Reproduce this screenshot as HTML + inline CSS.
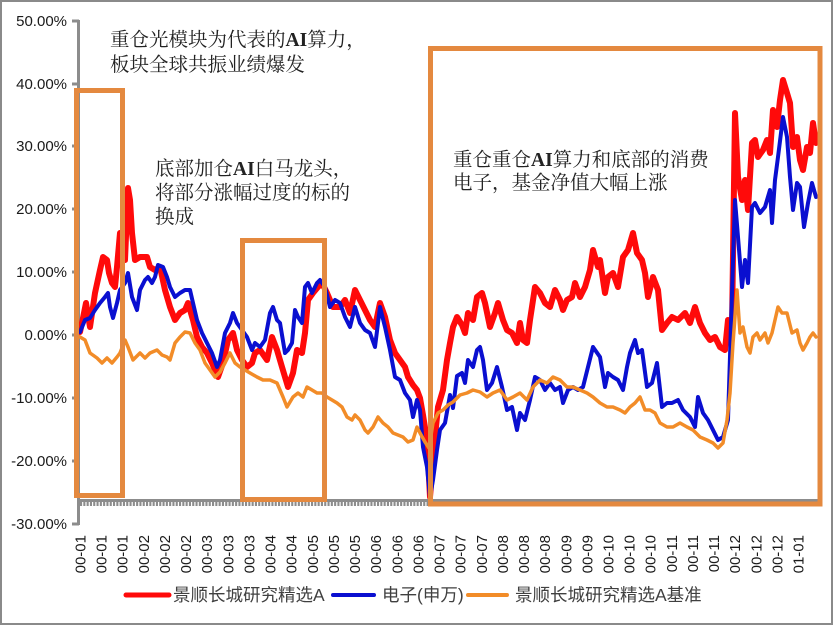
<!DOCTYPE html>
<html>
<head>
<meta charset="utf-8">
<style>
html,body{margin:0;padding:0;background:#fff;}
svg{display:block;}
</style>
</head>
<body>
<svg width="833" height="625" viewBox="0 0 833 625" xmlns="http://www.w3.org/2000/svg">
<rect x="1" y="1" width="831" height="623" fill="#fff" stroke="#8a8a8a" stroke-width="2"/>

<!-- Y axis -->
<g stroke="#8c8c8c" stroke-width="3" fill="none">
<line x1="78.5" y1="20" x2="78.5" y2="525"/>
<line x1="72" y1="21" x2="79" y2="21"/>
<line x1="72" y1="84" x2="79" y2="84"/>
<line x1="72" y1="146" x2="79" y2="146"/>
<line x1="72" y1="209" x2="79" y2="209"/>
<line x1="72" y1="272" x2="79" y2="272"/>
<line x1="72" y1="335" x2="79" y2="335"/>
<line x1="72" y1="398" x2="79" y2="398"/>
<line x1="72" y1="461" x2="79" y2="461"/>
<line x1="72" y1="524" x2="79" y2="524"/>
<!-- X axis -->
<line x1="78" y1="500.5" x2="820" y2="500.5"/>
</g>
<line x1="80" y1="504" x2="820" y2="504" stroke="#8c8c8c" stroke-width="4" stroke-dasharray="2.1 1.2"/>

<g font-family="Liberation Sans, Arial, sans-serif" font-size="15" fill="#1a1a1a" text-anchor="end">
<text x="67" y="26">50.00%</text>
<text x="67" y="89">40.00%</text>
<text x="67" y="151">30.00%</text>
<text x="67" y="214">20.00%</text>
<text x="67" y="277">10.00%</text>
<text x="67" y="340">0.00%</text>
<text x="67" y="403">-10.00%</text>
<text x="67" y="466">-20.00%</text>
<text x="67" y="529">-30.00%</text>
</g>

<!-- X labels -->
<g font-family="Liberation Sans, Arial, sans-serif" font-size="15" fill="#1a1a1a" text-anchor="end">
<text transform="translate(85.5,535) rotate(-90)">00-01</text>
<text transform="translate(106.6,535) rotate(-90)">00-01</text>
<text transform="translate(127.7,535) rotate(-90)">00-01</text>
<text transform="translate(148.9,535) rotate(-90)">00-02</text>
<text transform="translate(170.0,535) rotate(-90)">00-02</text>
<text transform="translate(191.1,535) rotate(-90)">00-02</text>
<text transform="translate(212.2,535) rotate(-90)">00-03</text>
<text transform="translate(233.3,535) rotate(-90)">00-03</text>
<text transform="translate(254.5,535) rotate(-90)">00-03</text>
<text transform="translate(275.6,535) rotate(-90)">00-04</text>
<text transform="translate(296.7,535) rotate(-90)">00-04</text>
<text transform="translate(317.8,535) rotate(-90)">00-05</text>
<text transform="translate(338.9,535) rotate(-90)">00-05</text>
<text transform="translate(360.1,535) rotate(-90)">00-05</text>
<text transform="translate(381.2,535) rotate(-90)">00-06</text>
<text transform="translate(402.3,535) rotate(-90)">00-06</text>
<text transform="translate(423.4,535) rotate(-90)">00-06</text>
<text transform="translate(444.5,535) rotate(-90)">00-07</text>
<text transform="translate(465.7,535) rotate(-90)">00-07</text>
<text transform="translate(486.8,535) rotate(-90)">00-07</text>
<text transform="translate(507.9,535) rotate(-90)">00-08</text>
<text transform="translate(529.0,535) rotate(-90)">00-08</text>
<text transform="translate(550.1,535) rotate(-90)">00-08</text>
<text transform="translate(571.3,535) rotate(-90)">00-09</text>
<text transform="translate(592.4,535) rotate(-90)">00-09</text>
<text transform="translate(613.5,535) rotate(-90)">00-10</text>
<text transform="translate(634.6,535) rotate(-90)">00-10</text>
<text transform="translate(655.7,535) rotate(-90)">00-10</text>
<text transform="translate(676.9,535) rotate(-90)">00-11</text>
<text transform="translate(698.0,535) rotate(-90)">00-11</text>
<text transform="translate(719.1,535) rotate(-90)">00-11</text>
<text transform="translate(740.2,535) rotate(-90)">00-12</text>
<text transform="translate(761.3,535) rotate(-90)">00-12</text>
<text transform="translate(782.5,535) rotate(-90)">00-12</text>
<text transform="translate(803.6,535) rotate(-90)">01-01</text>
</g>

<!-- Series -->
<polyline fill="none" stroke="#ff0a0a" stroke-width="6" stroke-linejoin="round" stroke-linecap="round" points="80,332 83,318 86,303 90,327 95,293 100,270 103,257 107,260 109,273 112,283 115,287 117,267 120,233 122,237 125,260 128,188 130,200 132,233 135,260 140,257 147,257 150,267 155,270 160,267 165,290 170,307 175,320 180,313 185,310 188,303 193,320 197,337 202,347 207,353 212,363 218,377 223,363 228,340 233,333 237,350 242,360 247,367 252,363 255,353 260,350 267,360 272,337 277,350 282,367 285,377 288,387 293,373 297,350 302,353 305,333 308,300 313,293 318,287 322,283 327,293 333,307 340,307 345,300 350,313 355,290 360,300 365,310 370,320 375,327 380,303 385,317 390,340 395,353 400,360 405,367 408,377 413,385 417,390 420,398 423,415 427,440 430,497 435,437 438,407 443,390 447,360 450,343 453,327 457,317 462,325 465,333 468,313 473,320 477,297 482,293 485,303 490,327 495,313 498,303 503,320 507,330 512,333 517,343 520,323 523,340 527,343 530,320 535,287 540,293 545,303 550,307 555,290 560,300 563,310 567,300 572,297 575,283 580,297 585,287 590,270 593,250 598,267 600,260 605,293 608,277 613,273 618,287 623,257 628,250 633,233 637,253 642,260 645,273 648,297 653,277 658,290 662,330 667,323 672,317 678,320 685,313 690,323 695,307 700,323 705,333 710,340 715,337 720,347 725,350 728,320 732,327 735,113 738,177 742,200 745,180 748,210 752,143 755,140 758,157 763,150 767,140 770,153 773,110 777,127 780,100 783,80 787,93 790,103 793,147 797,137 800,160 803,170 807,147 810,153 813,123 816,143"/>

<polyline fill="none" stroke="#0a0fd0" stroke-width="4" stroke-linejoin="round" stroke-linecap="round" points="80,332 85,320 90,318 95,310 100,303 105,297 108,293 110,307 113,318 117,303 120,290 125,283 128,273 132,297 137,310 140,290 145,280 148,277 152,283 155,277 158,265 163,267 167,277 170,287 175,297 180,293 185,290 190,290 193,303 197,320 202,333 207,343 212,353 217,367 220,360 225,333 230,323 233,313 237,323 242,330 247,337 252,350 255,343 260,347 265,340 270,313 273,307 277,320 280,323 285,353 288,350 292,343 295,310 298,317 302,323 305,287 308,283 312,293 317,283 320,280 325,287 330,307 335,300 340,303 345,317 350,327 355,307 360,323 365,330 370,333 375,347 380,307 385,327 390,350 395,377 400,380 405,393 410,400 413,417 417,400 420,410 423,447 427,467 430,497 433,480 437,450 440,430 445,423 450,395 453,408 457,376 462,373 465,383 468,360 473,367 477,350 480,347 483,360 487,390 492,383 497,367 502,387 507,410 512,407 517,430 520,413 525,420 530,400 535,377 540,380 545,390 550,383 555,390 560,387 563,403 568,390 573,387 578,390 583,387 588,367 593,347 600,357 605,387 608,373 613,377 618,380 623,390 627,367 630,353 635,340 638,353 642,350 647,387 652,383 657,363 662,407 667,403 672,403 678,400 683,410 690,417 695,427 698,397 703,413 708,420 713,430 718,440 723,437 728,420 732,293 735,200 738,237 742,287 745,260 748,283 752,207 755,203 760,213 765,207 770,190 772,223 775,180 778,157 783,117 787,137 790,177 793,210 797,183 800,187 804,227 808,203 812,183 816,197"/>

<polyline fill="none" stroke="#f28c28" stroke-width="3.5" stroke-linejoin="round" stroke-linecap="round" points="80,337 85,340 90,353 97,358 102,363 107,358 112,363 117,357 120,353 125,340 128,347 133,360 140,353 145,358 150,353 157,350 162,355 167,357 170,360 175,343 180,337 185,332 190,333 195,343 200,350 205,363 210,370 215,377 220,372 225,363 230,353 235,363 240,367 245,370 250,373 257,377 263,380 270,380 277,383 283,397 287,407 293,397 298,393 303,397 307,387 312,390 317,393 322,393 327,397 332,400 337,403 342,407 347,417 352,420 355,415 360,420 365,430 368,433 373,427 378,417 383,423 388,427 393,433 398,435 403,437 408,442 413,440 417,427 420,433 425,442 429,448 433,423 438,413 443,410 448,405 453,402 460,395 467,393 473,390 480,392 487,397 493,393 500,390 507,400 513,397 520,393 527,400 533,387 540,380 547,383 553,377 560,380 567,387 573,387 580,390 587,393 593,397 600,403 607,407 613,407 620,410 625,413 630,407 635,403 640,397 645,410 650,410 655,413 660,423 667,427 673,427 680,423 687,427 693,430 700,437 707,440 713,443 718,448 723,443 727,420 730,393 733,343 737,290 740,333 743,327 747,347 750,353 753,337 757,333 760,340 765,333 768,343 772,333 775,320 778,307 782,313 787,313 792,333 797,330 800,343 803,350 807,343 810,337 813,333 816,337"/>

<!-- Boxes -->
<g fill="none" stroke="#e4893f" stroke-width="5">
<rect x="76.5" y="90.5" width="46" height="405"/>
<rect x="242.5" y="240.5" width="82" height="259"/>
<rect x="430.5" y="48.5" width="389.5" height="455.5"/>
</g>

<!-- Annotations -->
<g font-family="Liberation Serif, Noto Serif CJK SC, serif" font-size="19.5" fill="#222">
<text x="110" y="46">重仓光模块为代表的<tspan font-weight="bold">AI</tspan>算力，</text>
<text x="110" y="71">板块全球共振业绩爆发</text>
<text x="155" y="175">底部加仓<tspan font-weight="bold">AI</tspan>白马龙头，</text>
<text x="155" y="199">将部分涨幅过度的标的</text>
<text x="155" y="223">换成</text>
<text x="453" y="166">重仓重仓<tspan font-weight="bold">AI</tspan>算力和底部的消费</text>
<text x="453" y="189">电子，基金净值大幅上涨</text>
</g>

<!-- Legend -->
<line x1="126" y1="595" x2="169" y2="595" stroke="#ff0a0a" stroke-width="5" stroke-linecap="round"/>
<line x1="333" y1="595" x2="374" y2="595" stroke="#0a0fd0" stroke-width="4" stroke-linecap="round"/>
<line x1="468" y1="595" x2="507" y2="595" stroke="#f28c28" stroke-width="4" stroke-linecap="round"/>
<g font-family="Liberation Sans, Noto Sans CJK SC, sans-serif" font-size="17.5" fill="#404040">
<text x="173" y="601">景顺长城研究精选A</text>
<text x="382" y="601">电子(申万)</text>
<text x="515" y="601">景顺长城研究精选A基准</text>
</g>
</svg>
</body>
</html>
